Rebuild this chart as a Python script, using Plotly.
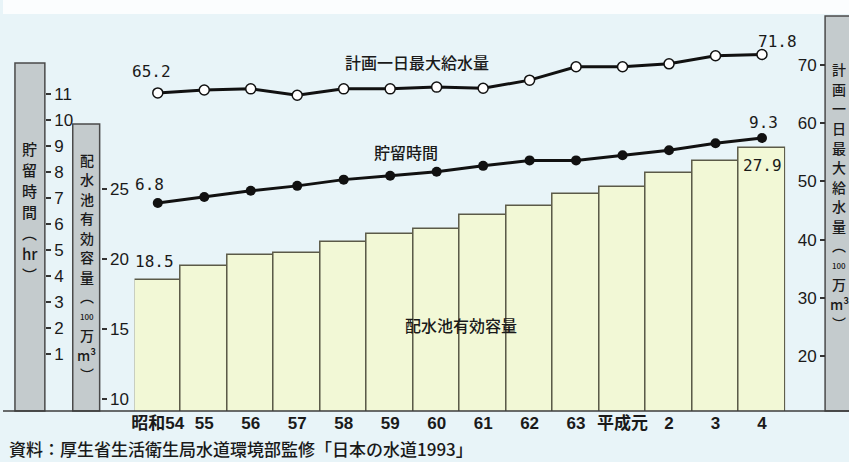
import plotly.graph_objects as go

# Fiscal years (Showa 54 – Heisei 4)
years = ["昭和54", "55", "56", "57", "58", "59", "60", "61", "62", "63", "平成元", "2", "3", "4"]
# Effective capacity of distribution reservoirs (100万m³)
capacity = [18.5, 19.5, 20.3, 20.4, 21.2, 21.8, 22.1, 23.1, 23.8, 24.6, 25.1, 26.1, 27.0, 27.9]
# Retention time (hr)
hours = [6.8, 7.03, 7.27, 7.46, 7.70, 7.85, 8.0, 8.23, 8.44, 8.44, 8.64, 8.83, 9.1, 9.3]
# Planned maximum daily supply (100万m³)
plan = [65.2, 65.7, 65.9, 64.8, 65.9, 65.9, 66.2, 66.0, 67.4, 69.7, 69.7, 70.2, 71.6, 71.8]

hour_ticks = list(range(1, 12))
cap_ticks = [10, 15, 20, 25]
plan_ticks = [20, 30, 40, 50, 60, 70]

W, H = 849, 462


def fx(px):
    return px / W


def fy(py):
    return 1 - py / H


JP = "Noto Sans CJK JP"
NUM = "Liberation Sans Narrow, Liberation Sans, Noto Sans CJK JP"
MONO = "DejaVu Sans Mono"
INK = "#1a1a1a"

fig = go.Figure()

fig.add_trace(go.Bar(
    x=years, y=capacity, yaxis="y",
    marker=dict(color="#f2f8d6", line=dict(color="#5b5a48", width=1.5)),
    hoverinfo="skip",
))
fig.add_trace(go.Scatter(
    x=years, y=hours, yaxis="y2", mode="lines+markers",
    line=dict(color="#111", width=3),
    marker=dict(color="#111", size=10),
    hoverinfo="skip",
))
fig.add_trace(go.Scatter(
    x=years, y=plan, yaxis="y3", mode="lines+markers",
    line=dict(color="#111", width=3),
    marker=dict(color="white", size=10, line=dict(color="#111", width=1.5)),
    hoverinfo="skip",
))

bottom = fy(411)
common_y = dict(showgrid=False, zeroline=False, showline=False, ticks="outside",
                ticklen=5, tickwidth=1.5, tickcolor="#333",
                tickfont=dict(family=NUM, size=17, color=INK))

fig.update_layout(
    width=W, height=H,
    margin=dict(l=0, r=0, t=0, b=0),
    paper_bgcolor="#e8f4f8",
    plot_bgcolor="rgba(0,0,0,0)",
    showlegend=False,
    bargap=0,
    xaxis=dict(domain=[fx(132), fx(785)], range=[-0.5, 13.5], type="category",
               anchor="y", showgrid=False, showline=False, ticks="",
               tickfont=dict(family=NUM, size=17, color=INK, weight=600)),
    yaxis=dict(domain=[bottom, 1], range=[9.17, 38.44], anchor="free", position=fx(98),
               side="right", tickvals=cap_ticks, **common_y),
    yaxis2=dict(domain=[bottom, 1], range=[-1.2, 14.61], overlaying="y", anchor="free",
                position=fx(42), side="right", tickvals=hour_ticks, **common_y),
    yaxis3=dict(domain=[bottom, 1], range=[10.55, 81.17], overlaying="y", anchor="free",
                position=fx(825), side="left", tickvals=plan_ticks, **common_y),
)

shapes = []
# pale strip along the top edge
shapes.append(dict(type="rect", xref="paper", yref="paper", x0=0, x1=1, y0=fy(14), y1=1,
                   fillcolor="#fbfdfe", line=dict(width=0), layer="below"))
# grey axis-title bands
for x0, x1, top in [(12, 42, 63), (70, 97, 124), (825, 852, 16)]:
    shapes.append(dict(type="rect", xref="paper", yref="paper", x0=fx(x0), x1=fx(x1),
                       y0=bottom, y1=fy(top), fillcolor="#c4cbcd",
                       line=dict(color="#4a4a4a", width=1.5), layer="below"))
# baseline
shapes.append(dict(type="line", xref="paper", yref="paper", x0=0, x1=1, y0=bottom, y1=bottom,
                   line=dict(color="#3c3c3c", width=1.5)))
fig.update_layout(shapes=shapes)

ann = []


def band_text(cx, top, chars, size, pitch):
    # stack the characters one per row to set the title vertically
    for k, ch in enumerate(chars):
        ann.append(dict(xref="paper", yref="paper", x=fx(cx), y=fy(top + k * pitch),
                        xanchor="center", yanchor="middle", showarrow=False, text=ch,
                        borderpad=0, height=pitch - 1,
                        font=dict(family=JP, size=size, color=INK, weight=500)))


small = "<span style='font-size:8px'>100</span>"
band_text(27, 148, list("貯留時間") + ["︵", "hr", "︶"], 15, 21)
band_text(84, 160, list("配水池有効容量") + ["︵", small, "万", "m³", "︶"], 14, 19.5)
band_text(839, 70, list("計画一日最大給水量") + ["︵", small, "万", "m³", "︶"], 14, 19.5)

# series names
for x, y, t in [(415, 62, "計画一日最大給水量"), (404, 152, "貯留時間"), (460, 325, "配水池有効容量")]:
    ann.append(dict(xref="paper", yref="paper", x=fx(x), y=fy(y), xanchor="center",
                    yanchor="middle", showarrow=False, text=t,
                    font=dict(family=JP, size=16, color=INK, weight=500)))


def value_label(i, vals, yref, dx, dy):
    ann.append(dict(x=i, y=vals[i], xref="x", yref=yref, showarrow=False,
                    text=f"{vals[i]:.1f}", xshift=dx, yshift=dy,
                    font=dict(family=MONO, size=16, color=INK)))


value_label(0, plan, "y3", -6, 21)
value_label(13, plan, "y3", 16, 13)
value_label(0, hours, "y2", -8, 19)
value_label(13, hours, "y2", 2, 16)
value_label(0, capacity, "y", -3, 18)
value_label(13, capacity, "y", 1, -17)

# source note
ann.append(dict(xref="paper", yref="paper", x=fx(4), y=fy(448), xanchor="left",
                yanchor="middle", showarrow=False,
                text="資料：厚生省生活衛生局水道環境部監修「日本の水道1993」",
                font=dict(family=JP, size=17, color=INK, weight=500)))

fig.update_layout(annotations=ann)
fig.write_html("out.html")
